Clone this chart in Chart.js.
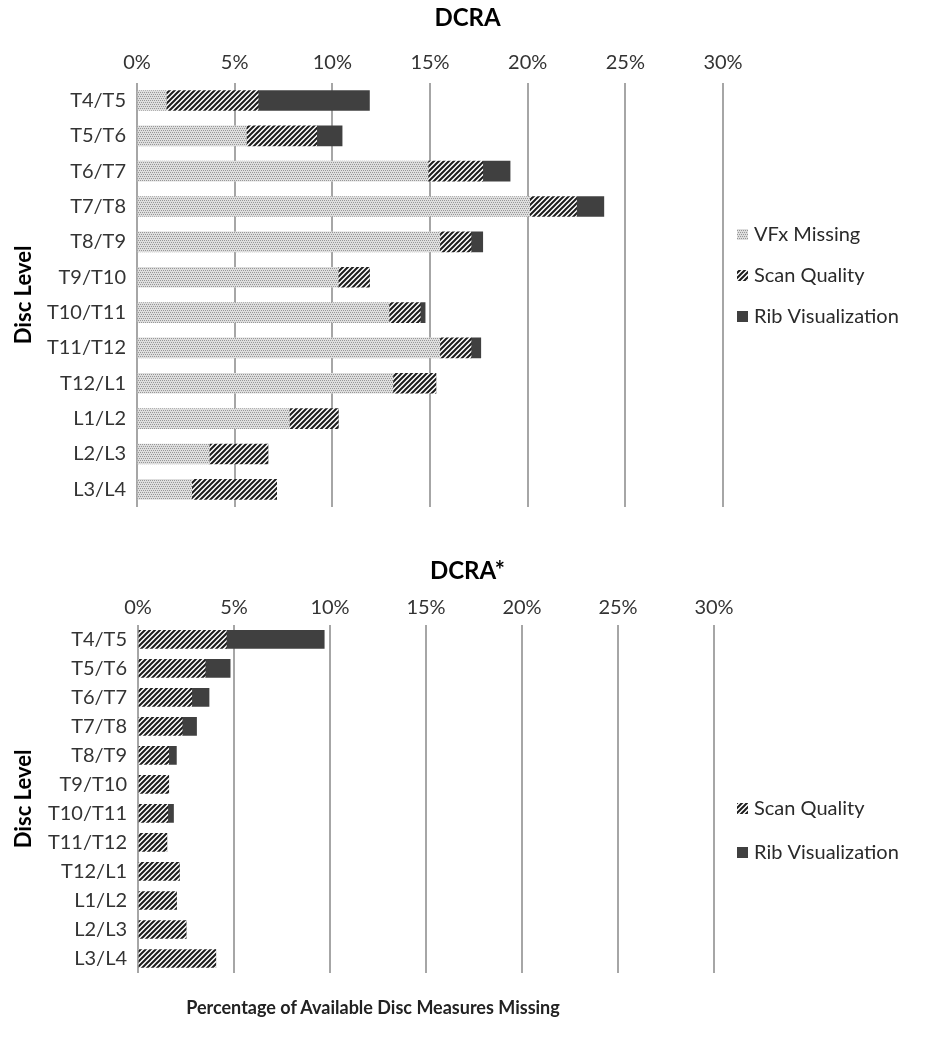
<!DOCTYPE html>
<html>
<head>
<meta charset="utf-8">
<script src="https://cdn.jsdelivr.net/npm/chart.js@4.4.1/dist/chart.umd.min.js"></script>
<style>
  body { margin:0; background:#fff; }
  #wrap { position:relative; width:935px; height:1045px; }
  #topChart { position:absolute; left:0; top:0; }
  #bottomChart { position:absolute; left:0; top:540px; }
  #xLabel { position:absolute; left:0; width:746px; top:996px; text-align:center;
            font:bold 18px Lato, sans-serif; color:#222; }
</style>
</head>
<body>
<div id="wrap">
  <canvas id="topChart" width="935" height="530"></canvas>
  <canvas id="bottomChart" width="935" height="505"></canvas>
  <div id="xLabel">Percentage of Available Disc Measures Missing</div>
</div>
<script>
// Values (percent)
const discLevels = ['T4/T5','T5/T6','T6/T7','T7/T8','T8/T9','T9/T10','T10/T11','T11/T12','T12/L1','L1/L2','L2/L3','L3/L4'];
const percentTicks = [0, 5, 10, 15, 20, 25, 30];

const dcraVfx  = [1.5, 5.6, 14.9, 20.1, 15.5, 10.3, 12.9, 15.5, 13.1, 7.8, 3.7, 2.8];
const dcraScan = [4.7, 3.6, 2.8, 2.4, 1.6, 1.6, 1.6, 1.6, 2.2, 2.5, 3.0, 4.35];
const dcraRib  = [5.7, 1.3, 1.4, 1.4, 0.6, 0, 0.25, 0.5, 0, 0, 0, 0];

const starScan = [4.6, 3.5, 2.8, 2.3, 1.6, 1.6, 1.55, 1.5, 2.15, 2.0, 2.5, 4.05];
const starRib  = [5.1, 1.3, 0.9, 0.75, 0.4, 0, 0.3, 0, 0, 0, 0, 0];

const FONT = 'Lato';

// fill patterns
function dotPattern(){
  const c = document.createElement('canvas');
  c.width = 4; c.height = 4;
  const g = c.getContext('2d');
  g.fillStyle = '#dedede'; g.fillRect(0,0,4,4);
  g.fillStyle = '#979797';
  [[0,0],[2,0],[1,2],[3,2]].forEach(p => g.fillRect(p[0],p[1],1,1));
  return g.createPattern(c, 'repeat');
}

function hatchPattern(){
  const s = 5;
  const c = document.createElement('canvas');
  c.width = s; c.height = s;
  const g = c.getContext('2d');
  g.fillStyle = '#fff'; g.fillRect(0,0,s,s);
  g.strokeStyle = '#1c1c1c'; g.lineWidth = 2;
  g.beginPath();
  g.moveTo(0, s); g.lineTo(s, 0);
  g.moveTo(-s/2, s/2); g.lineTo(s/2, -s/2);
  g.moveTo(s/2, s*1.5); g.lineTo(s*1.5, s/2);
  g.stroke();
  return g.createPattern(c, 'repeat');
}

const vfxFill = dotPattern();
const scanFill = hatchPattern();
const ribFill = '#404040';

// legend drawn at fixed spots right of the plot
const sideLegend = {
  id: 'sideLegend',
  afterDraw(chart, args, opts){
    const ctx = chart.ctx;
    ctx.save();
    ctx.font = '20px ' + FONT;
    ctx.textBaseline = 'middle';
    chart.data.datasets.forEach((ds, i) => {
      const y = opts.ys[i];
      ctx.fillStyle = ds.backgroundColor;
      ctx.fillRect(opts.x, y - 5, 11, 11);
      ctx.fillStyle = '#2a2a2a';
      ctx.fillText(ds.label, opts.x + 17, y + 1);
    });
    ctx.restore();
  }
};

function makeChart(id, title, datasets, cfg){
  const ctx = document.getElementById(id).getContext('2d');
  return new Chart(ctx, {
    type: 'bar',
    data: { labels: discLevels, datasets: datasets },
    options: {
      responsive: false,
      animation: false,
      indexAxis: 'y',
      layout: { padding: { left: 0, right: 0, top: 0, bottom: cfg.padBottom } },
      datasets: { bar: { barThickness: cfg.barThickness, borderWidth: 0 } },
      plugins: {
        legend: { display: false },
        tooltip: { enabled: false },
        title: {
          display: true, text: title, color: '#000',
          font: { family: FONT, size: 24, weight: 'bold' },
          padding: cfg.titlePad
        },
        sideLegend: { x: 737, ys: cfg.legendYs }
      },
      scales: {
        x: {
          type: 'linear', position: 'top', stacked: true,
          min: 0, max: 30,
          afterBuildTicks: s => { s.ticks = percentTicks.map(v => ({ value: v })); },
          grid: { color: '#a6a6a6', lineWidth: 2, drawTicks: false },
          border: { display: false },
          ticks: {
            padding: cfg.tickPad, color: '#333',
            font: { family: FONT, size: 20 },
            callback: v => v + '%'
          }
        },
        y: {
          stacked: true,
          grid: { display: false, drawTicks: false },
          border: { display: false },
          afterFit: s => { s.width = cfg.left; },
          ticks: { padding: 11, color: '#333', font: { family: FONT, size: 20 } },
          title: {
            display: true, text: 'Disc Level', color: '#000',
            font: { family: FONT, size: 22, weight: 'bold' },
            padding: { top: 11, bottom: 0 }
          }
        },
        // empty axis that keeps room for the legend on the right
        side: {
          type: 'linear', position: 'right', axis: 'y',
          grid: { display: false, drawTicks: false },
          border: { display: false },
          ticks: { display: false },
          afterFit: s => { s.width = cfg.padRight; }
        }
      }
    },
    plugins: [sideLegend]
  });
}

makeChart('topChart', 'DCRA', [
  { label: 'VFx Missing', data: dcraVfx, backgroundColor: vfxFill },
  { label: 'Scan Quality', data: dcraScan, backgroundColor: scanFill },
  { label: 'Rib Visualization', data: dcraRib, backgroundColor: ribFill }
], { left: 137, padRight: 212, padBottom: 23, barThickness: 20,
     titlePad: { top: 4, bottom: 10 }, tickPad: 8, legendYs: [234, 275, 316] });

makeChart('bottomChart', 'DCRA*', [
  { label: 'Scan Quality', data: starScan, backgroundColor: scanFill },
  { label: 'Rib Visualization', data: starRib, backgroundColor: ribFill }
], { left: 138, padRight: 221, padBottom: 72, barThickness: 18,
     titlePad: { top: 17, bottom: 5 }, tickPad: 5, legendYs: [268, 312] });
</script>
</body>
</html>
